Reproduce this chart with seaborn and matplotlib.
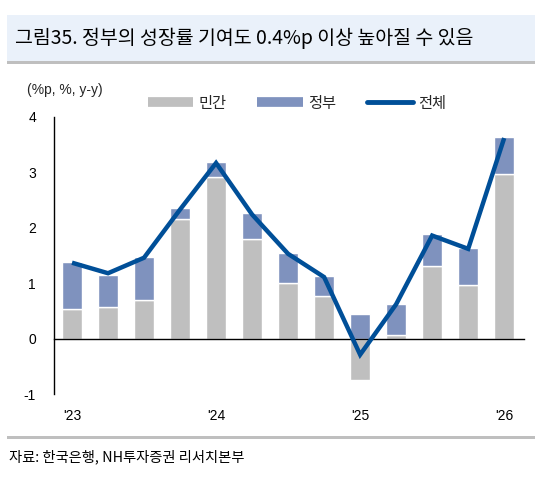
import numpy as np
import matplotlib
matplotlib.use("Agg")
import matplotlib.pyplot as plt
import seaborn as sns
from matplotlib.patches import Rectangle
from matplotlib.lines import Line2D

# quarterly data, '23 Q1 .. '26 Q1
quarters = ["23Q1", "23Q2", "23Q3", "23Q4", "24Q1", "24Q2", "24Q3", "24Q4",
            "25Q1", "25Q2", "25Q3", "25Q4", "26Q1"]
private = [0.53, 0.57, 0.70, 2.16, 2.91, 1.79, 1.00, 0.76, -0.75, 0.07, 1.31, 0.97, 2.97]
government = [0.85, 0.58, 0.77, 0.19, 0.27, 0.47, 0.55, 0.37, 0.45, 0.56, 0.57, 0.66, 0.67]
total = [1.37, 1.18, 1.46, 2.33, 3.17, 2.24, 1.53, 1.11, -0.29, 0.62, 1.86, 1.62, 3.62]
year_labels = ["'23", "'24", "'25", "'26"]
year_label_idx = [0, 4, 8, 12]
year_break_pos = [3.5, 7.5, 11.5]

GRAY = "#BFBFBF"
BLUE = "#7F92BE"
LINE = "#004F98"

sns.set_theme(style="white")
plt.rcParams["font.family"] = ["Liberation Sans", "Noto Sans CJK KR", "DejaVu Sans"]
KR = ["Noto Sans CJK KR", "DejaVu Sans"]

W, H = 552, 483
fig = plt.figure(figsize=(W / 100, H / 100), dpi=100)

# title box and separator lines
fig.patches.append(Rectangle((7 / W, 1 - 61 / H), (535 - 7) / W, 46 / H,
                             transform=fig.transFigure, facecolor="#EAF1FA",
                             edgecolor="none", zorder=0))
fig.patches.append(Rectangle((7 / W, 1 - 64 / H), (535 - 7) / W, 3 / H,
                             transform=fig.transFigure, facecolor="#BFBFBF",
                             edgecolor="none", zorder=1))
fig.patches.append(Rectangle((7 / W, 1 - 439 / H), (535 - 7) / W, 3 / H,
                             transform=fig.transFigure, facecolor="#BFBFBF",
                             edgecolor="none", zorder=1))
fig.text(15 / W, 1 - 38 / H, "그림35. 정부의 성장률 기여도 0.4%p 이상 높아질 수 있음",
         family=KR, fontsize=14, va="center", ha="left", color="black")
fig.text(9 / W, 1 - 457 / H, "자료: 한국은행, NH투자증권 리서치본부",
         family=KR, fontsize=10.3, va="center", ha="left", color="black")
fig.text(27 / W, 1 - 90 / H, "(%p, %, y-y)", fontsize=10, va="center", ha="left")

ax = fig.add_axes([54 / W, (H - 394) / H, (524 - 54) / W, (394 - 117) / H])
ax.set_facecolor("none")

x = np.arange(len(quarters))
priv = np.array(private)
gov_bottom = np.where(priv > 0, priv, 0)
ax.bar(x, private, width=0.55, color=GRAY, zorder=2)
ax.bar(x, government, width=0.55, bottom=gov_bottom, color=BLUE, zorder=2)
sns.lineplot(x=x, y=total, ax=ax, color=LINE, linewidth=3.2, zorder=3,
             solid_joinstyle="miter", solid_capstyle="butt")

ax.set_xlim(-0.5, 12.55)
ax.set_ylim(-1, 4)
ax.set_yticks([-1, 0, 1, 2, 3, 4])
ax.set_yticklabels(["-1", "0", "1", "2", "3", "4"])
for s in ["top", "right"]:
    ax.spines[s].set_visible(False)
ax.spines["left"].set_color("black")
ax.spines["left"].set_linewidth(1)
ax.spines["bottom"].set_position(("data", 0))
ax.spines["bottom"].set_color("black")
ax.spines["bottom"].set_linewidth(1)
ax.set_xticks(year_break_pos)
ax.set_xticklabels([])
ax.tick_params(axis="x", direction="in", length=4, width=1, color="black")
ax.tick_params(axis="y", direction="in", length=4.5, width=1, color="black",
               labelsize=10, pad=13, labelcolor="black")

sec = ax.secondary_xaxis("bottom")
sec.set_xticks(year_label_idx)
sec.set_xticklabels(year_labels)
sec.tick_params(length=0, pad=11, labelsize=10, labelcolor="black")
sec.spines["bottom"].set_visible(False)

handles = [
    Line2D([], [], color=GRAY, linewidth=7, solid_capstyle="butt"),
    Line2D([], [], color=BLUE, linewidth=7, solid_capstyle="butt"),
    Line2D([], [], color=LINE, linewidth=3.5, solid_capstyle="round"),
]
leg = ax.legend(handles, ["민간", "정부", "전체"], ncol=3, loc="center",
                bbox_to_anchor=(0.517, 1.05), frameon=False, handlelength=3.0,
                handletextpad=0.35, columnspacing=2.0, prop={"family": KR, "size": 11})

fig.savefig("out.png", dpi=100)
